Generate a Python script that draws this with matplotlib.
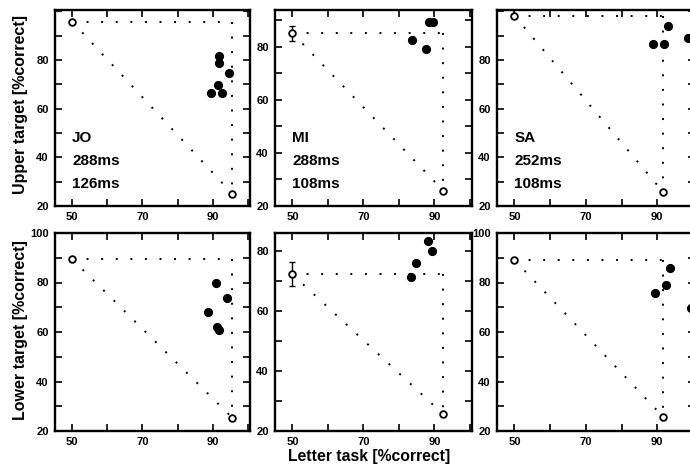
import matplotlib
matplotlib.use("Agg")
import matplotlib.pyplot as plt

plt.rcParams['font.family'] = ['Liberation Sans', 'DejaVu Sans']

# ---- data ----
subjects = ["JO", "MI", "SA"]
soa_labels = [("288ms", "126ms"), ("288ms", "108ms"), ("252ms", "108ms")]
row_labels = ["Upper target [%correct]", "Lower target [%correct]"]
x_label = "Letter task [%correct]"

letter_chance = 50.0
target_chance = [[25.1, 25.8, 25.7], [25.4, 25.6, 25.7]]
letter_single = [95.5, 92.5, 91.7]
target_single_upper = [95.7, 85.1, 98.1]
target_single_lower = [89.4, 72.2, 89.1]
target_err_upper = [0.0, 2.8, 0.0]
target_err_lower = [0.0, 4.0, 0.0]

# dual-task (filled) points
jo_upper_x = [91.8, 91.8, 94.6, 91.5, 89.6, 92.6]
jo_upper_y = [81.6, 78.9, 74.5, 69.6, 66.5, 66.5]
mi_upper_x = [83.6, 87.6, 88.4, 89.6]
mi_upper_y = [82.4, 79.2, 89.4, 89.4]
sa_upper_x = [88.9, 91.9, 93.1, 98.6]
sa_upper_y = [86.7, 86.7, 94.1, 89.1]

jo_lower_x = [90.9, 94.0, 88.7, 91.1, 91.8]
jo_lower_y = [79.9, 73.8, 67.9, 61.9, 60.8]
mi_lower_x = [83.3, 84.8, 88.3, 89.4]
mi_lower_y = [71.3, 76.1, 83.3, 80.0]
sa_lower_x = [89.4, 92.4, 93.6, 99.4]
sa_lower_y = [75.6, 78.9, 85.7, 69.8]

dual_x = [[jo_upper_x, mi_upper_x, sa_upper_x], [jo_lower_x, mi_lower_x, sa_lower_x]]
dual_y = [[jo_upper_y, mi_upper_y, sa_upper_y], [jo_lower_y, mi_lower_y, sa_lower_y]]
single_y = [target_single_upper, target_single_lower]
single_err = [target_err_upper, target_err_lower]

x_ticks = [50, 60, 70, 80, 90, 100]
x_ticklabels = ["50", "", "70", "", "90", ""]
ylims = [[(20, 100.5), (20, 93.8), (20, 100.5)], [(20, 100), (20, 86), (20, 100)]]

# ---- layout ----
W, H = 690, 472
fig = plt.figure(figsize=(W / 100, H / 100), dpi=100)
col_px = [(55, 195), (275, 197), (497, 198)]
row_px = [(10, 206), (233, 431)]

bold = dict(fontweight='bold')
for r in range(2):
    top, bot = row_px[r]
    for c in range(3):
        left, width = col_px[c]
        ax = fig.add_axes([left / W, 1 - bot / H, width / W, (bot - top) / H])
        ax.set_xlim(45.1, 100.6)
        y0, y1 = ylims[r][c]
        ax.set_ylim(y0, y1)

        ys = single_y[r][c]
        xs = letter_single[c]
        yc = target_chance[r][c]
        dot = dict(color='black', lw=1.4, linestyle=(0, (1, 6.5)))
        ax.plot([letter_chance, xs], [ys, ys], **dot)
        ax.plot([xs, xs], [ys, yc], **dot)
        ax.plot([letter_chance, xs], [ys, yc], **dot)

        ax.plot(dual_x[r][c], dual_y[r][c], 'o', color='black', ms=5.6, zorder=4)

        err = single_err[r][c]
        if err > 0:
            ax.errorbar([letter_chance], [ys], yerr=[err], fmt='none', ecolor='black',
                        elinewidth=1.0, capsize=2.2, capthick=1.0, zorder=4)
        ax.plot([letter_chance, xs], [ys, yc], 'o', mfc='white', mec='black',
                ms=4.8, mew=1.3, zorder=5)

        # ticks
        ax.set_xticks(x_ticks)
        ax.set_xticklabels(x_ticklabels)
        yt = list(range(20, int(y1) + 1, 10))
        ax.set_yticks(yt)
        ylabs = []
        for v in yt:
            if v % 20 == 0 and (v < 100 or r == 1):
                ylabs.append(str(v))
            else:
                ylabs.append("")
        ax.set_yticklabels(ylabs)
        ax.tick_params(direction='in', length=5, width=1.2, top=True, right=True,
                       labelsize=8, pad=4.5)
        for lab in ax.get_xticklabels() + ax.get_yticklabels():
            lab.set_fontweight('bold')
        for sp in ax.spines.values():
            sp.set_linewidth(1.7)

        if r == 0:
            tr = ax.get_xaxis_transform()
            ax.text(letter_chance, 0.327, subjects[c], transform=tr, fontsize=11,
                    ha='left', va='baseline', **bold)
            ax.text(letter_chance, 0.209, soa_labels[c][0], transform=tr, fontsize=11,
                    ha='left', va='baseline', **bold)
            ax.text(letter_chance, 0.092, soa_labels[c][1], transform=tr, fontsize=11,
                    ha='left', va='baseline', **bold)

fig.text(21 / W, 1 - 104 / H, row_labels[0], rotation=90, ha='center', va='center',
         fontsize=11.5, **bold)
fig.text(21 / W, 1 - 330 / H, row_labels[1], rotation=90, ha='center', va='center',
         fontsize=11.5, **bold)
fig.text(369 / W, 1 - 456 / H, x_label, ha='center', va='center', fontsize=11.3, **bold)

fig.savefig("out.png", dpi=100)
